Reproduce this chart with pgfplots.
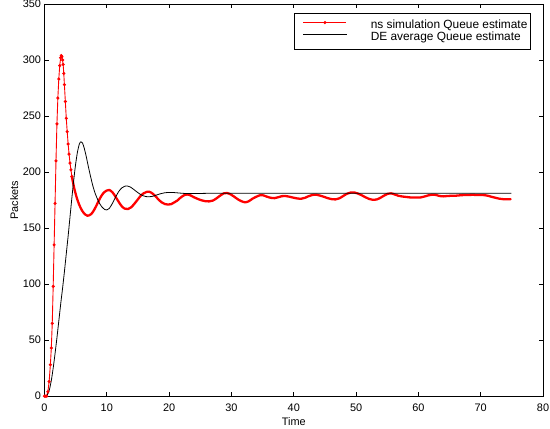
\documentclass[border=0pt]{standalone}
\usepackage{pgfplots}
\pgfplotsset{compat=1.18}
\usepackage{fontspec}
\setmainfont{Liberation Sans}
\usetikzlibrary{calc}
\begin{document}
\begin{tikzpicture}
\begin{axis}[
  scale only axis, width=501.3bp, height=394.3bp,
  xmin=0, xmax=80, ymin=0, ymax=350,
  xtick={0,10,...,80}, ytick={0,50,...,350},
  tick align=inside, major tick length=4.5bp,
  every tick/.style={black, line width=0.6bp},
  axis line style={line width=0.8bp},
  /pgf/number format/assume math mode=true,
  tick label style={font=\fontsize{11}{13}\selectfont},
  xticklabel style={anchor=base, yshift=-15.8bp},
  xlabel={Time}, ylabel={Packets},
  label style={font=\fontsize{11}{13}\selectfont},
  xlabel style={at={(axis description cs:0.5,-0.0753)}, anchor=base},
  ylabel style={at={(axis description cs:-0.0527,0.5)}, anchor=base},
  legend style={at={(0.976,0.9764)}, anchor=north east, draw=black, line width=0.8bp,
    fill=white, font=\fontsize{12}{14}\selectfont, inner xsep=3.3bp, inner ysep=6.5bp,
    row sep=0.4bp, column sep=24bp,
    nodes={inner sep=0pt, text height=8.8bp, text depth=2.5bp}},
  legend cell align=left,
  legend image code/.code={\path (0bp,0bp) (48.3bp,0bp);
    \draw[mark repeat=2, mark phase=2, #1] plot coordinates {(5bp,3.2bp) (26.7bp,3.2bp) (48.3bp,3.2bp)};},
]
\addplot[red, line width=0.9bp, mark=*, mark size=1.1bp, mark options={solid, fill=red}] coordinates {
(0,0)(0.15,0)(0.35,0)(0.55,4)(0.75,13)(0.95,28)(1.1,43)(1.25,65)(1.4,98)(1.55,135)(1.7,172)(1.85,210)(2.0,243)(2.15,266)(2.3,283)(2.45,295)(2.6,302)(2.7,304)(2.8,303)(2.9,300)(3.0,296)(3.1,288)(3.2,278)(3.35,263)(3.5,248)(3.65,236)(3.8,225)(3.95,216)(4.1,208)(4.25,202)(4.4,196)
};
\addlegendentry{ns simulation Queue estimate}
\addplot[red, line width=2.3bp, smooth, line join=round, line cap=round, forget plot] coordinates {
(4.4,196)(4.8,185)(5.3,175)(5.8,168)(6.3,163.5)(6.9,161)(7.5,162.5)(8.0,166.5)(8.5,172)(9.0,177.5)(9.5,181.5)(10.0,183.5)(10.4,184)(10.9,182)(11.4,178)(11.9,173.5)(12.4,169.5)(12.9,167.3)(13.4,167)(13.9,168.5)(14.4,171.5)(14.9,175)(15.4,178.5)(15.9,181)(16.4,182.3)(16.8,182.5)(17.3,181)(17.8,178.5)(18.3,175.5)(18.8,173)(19.3,171.5)(19.8,171)(20.3,171.3)(20.8,172.8)(21.3,174.5)(21.8,177)(22.3,179)(22.9,180)(23.5,179)(24.0,177.5)(24.6,176)(25.2,174.8)(25.8,174)(26.4,173.8)(27.0,174.5)(27.6,176.5)(28.2,179)(28.8,181)(29.3,181.3)(29.9,180)(30.4,178.2)(31.0,175.8)(31.6,174)(32.2,173)(32.8,174)(33.4,176.3)(34.0,178)(34.6,179.3)(35.1,179.2)(35.7,178)(36.3,177)(36.9,176.7)(37.5,177.5)(38.1,178.5)(38.7,178.6)(39.3,178)(39.9,177.2)(40.5,176.5)(41.2,176.2)(41.8,177)(42.4,178.5)(43.0,179.6)(43.6,179.8)(44.2,179)(44.8,178)(45.4,176.8)(46.0,175.9)(46.7,175.6)(47.3,176.5)(47.9,178.5)(48.5,180.5)(49.1,181.7)(49.7,181.8)(50.3,180.8)(50.9,179.3)(51.5,177.5)(52.1,176)(52.7,175.2)(53.3,175.5)(53.9,177)(54.5,179)(55.1,180.6)(55.6,181)(56.2,180)(56.8,178.8)(57.4,178.2)(58.0,177.8)(58.6,177.4)(59.2,177.2)(59.8,177.2)(60.4,177.4)(61.0,178.2)(61.6,179.2)(62.2,179.8)(62.8,179.6)(63.4,178.6)(64.0,178.3)(64.6,178.6)(65.2,178.8)(65.8,178.8)(66.4,179.1)(67.0,179.4)(67.6,179.5)(68.2,179.6)(68.8,179.7)(69.4,179.5)(70.0,179.5)(70.6,179.4)(71.2,178.8)(71.8,177.8)(72.4,177)(73.0,176.2)(73.6,175.8)(74.2,175.7)(74.8,175.8)
};
\addplot[black, line width=0.8bp, smooth] coordinates {
(0,0)(0.25,0)(0.5,1.5)(0.8,6)(1.1,14)(1.4,25)(1.7,38)(2.0,52)(2.3,67)(2.6,82)(2.9,96)(3.2,111)(3.5,127)(3.8,143)(4.1,160)(4.4,177)(4.7,193)(5.0,207)(5.3,218)(5.6,225)(5.85,227)(6.1,226)(6.4,221)(6.7,214)(7.0,206)(7.4,196)(7.8,187)(8.2,180)(8.7,173.5)(9.2,169)(9.7,166.5)(10.0,166.2)(10.4,167.5)(10.9,172)(11.4,177.5)(11.9,182.5)(12.4,185.8)(12.9,187.4)(13.3,187.6)(13.8,186.6)(14.3,184.6)(14.8,182.4)(15.3,180.4)(15.8,178.9)(16.3,178.1)(16.8,177.9)(17.4,178.4)(18.0,179.5)(18.6,180.6)(19.2,181.4)(19.8,181.8)(20.5,181.8)(21.2,181.5)(22.0,181.1)(23.0,180.8)(24.5,180.8)(26,181)(30,181)(40,181)(50,181)(60,181)(70,181)(74.9,181)
};
\addlegendentry{DE average Queue estimate}
\end{axis}
\pgfresetboundingbox
\path ($(current axis.south west)+(-44.7bp,-32.7bp)$) rectangle ($(current axis.north east)+(7bp,4bp)$);
\end{tikzpicture}
\end{document}
